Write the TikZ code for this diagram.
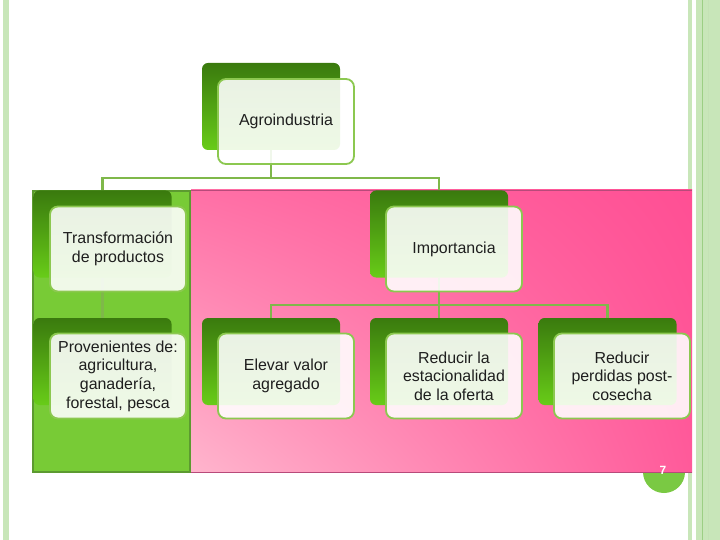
\documentclass[tikz,border=0pt]{standalone}
\usepackage{fontspec}
\setmainfont{Liberation Sans}
\usetikzlibrary{shadings}
\definecolor{stripe}{HTML}{C8E6B9}
\definecolor{stripeline}{HTML}{9CCF84}
\definecolor{panelgreen}{HTML}{78CB36}
\definecolor{panelborder}{HTML}{5C9A30}
\definecolor{pinkTL}{HTML}{FF70A6}
\definecolor{pinkTR}{HTML}{FF4F94}
\definecolor{pinkBL}{HTML}{FFB5CD}
\definecolor{pinkBR}{HTML}{FF5A9A}
\definecolor{pinkedge}{HTML}{B84A7A}
\definecolor{backtop}{HTML}{3A7A0E}
\definecolor{backbot}{HTML}{68CC18}
\definecolor{cardline}{HTML}{8CC850}
\definecolor{linkgreen}{HTML}{7FB84A}
\definecolor{numgreen}{HTML}{7AC943}
\definecolor{cardtext}{HTML}{1E1E1E}

\begin{document}
\begin{tikzpicture}[x=1bp,y=-1bp,
  backcard/.style={rectangle,rounded corners=6bp,minimum width=138bp,minimum height=87bp,
    inner sep=0pt,top color=backtop,bottom color=backbot,draw=none},
  frontcard/.style={rectangle,rounded corners=8bp,minimum width=136bp,minimum height=85bp,
    inner sep=2pt,draw=cardline,line width=1.8pt,fill=white,fill opacity=0.89,text opacity=1,
    text=cardtext,align=center,font=\fontsize{16}{18.7}\selectfont},
  link/.style={draw=linkgreen,line width=2.2pt}]
  \useasboundingbox (0,0) rectangle (720,540);
  \fill[white] (0,0) rectangle (720,540);
  % page stripes
  \fill[stripe] (3,0) rectangle (9,540);
  \fill[stripe] (688,0) rectangle (692,540);
  \fill[stripe] (696,0) rectangle (720,540);
  \draw[stripeline,line width=0.8pt] (702,0) -- (702,540);
  \draw[stripeline!60,line width=0.8pt] (708,0) -- (708,540);
  % page number disc
  \fill[numgreen] (664,472) circle (21);
  % panels
  \fill[panelgreen,draw=panelborder,line width=2.2pt] (33,191) rectangle (190,472);
  \shade[upper left=pinkTL,upper right=pinkTR,lower left=pinkBL,lower right=pinkBR]
    (191,190) rectangle (692,472);
  \draw[pinkedge,line width=0.8pt] (191,190) -- (692,190);
  \draw[pinkedge,line width=0.8pt] (191,472) -- (692,472);
  \node[text=white,font=\bfseries\fontsize{12}{12}\selectfont] (pagenum) at (663,470) {7};
  % back cards
  \node[backcard] (agroB) at (271,106.5) {};
  \node[backcard] (transB) at (102.5,234) {};
  \node[backcard] (impB) at (439,234) {};
  \node[backcard] (provB) at (102.5,361.5) {};
  \node[backcard] (elevB) at (271,361.5) {};
  \node[backcard] (estacB) at (439,361.5) {};
  \node[backcard] (perdB) at (607.5,361.5) {};
  % connectors
  \coordinate (busA) at (0,178);
  \coordinate (busB) at (0,305);
  \draw[link] (agroB.south) -- (agroB.south |- busA) -| (transB.north);
  \draw[link] (agroB.south |- busA) -| (impB.north);
  \draw[link] (transB.south) -- (provB.north);
  \draw[link] (impB.south) -- (impB.south |- busB) -| (elevB.north);
  \draw[link] (impB.south |- busB) -| (perdB.north);
  \draw[link] (impB.south |- busB) -- (estacB.north);
  % Agroindustria
  \node[frontcard] (agro) at (286,121.5) {Agroindustria};
  % Transformacion
  \node[frontcard] (trans) at (118,249) {Transformación\\de productos};
  % Importancia
  \node[frontcard] (imp) at (454,249) {Importancia};
  % Provenientes
  \node[frontcard] (prov) at (118,376) {Provenientes de:\\agricultura,\\ganadería,\\forestal, pesca};
  % Elevar valor
  \node[frontcard] (elev) at (286,376) {Elevar valor\\agregado};
  % Estacionalidad
  \node[frontcard] (estac) at (454,376) {Reducir la\\estacionalidad\\de la oferta};
  % Perdidas
  \node[frontcard] (perd) at (622,376) {Reducir\\perdidas post-\\cosecha};
\end{tikzpicture}
\end{document}
